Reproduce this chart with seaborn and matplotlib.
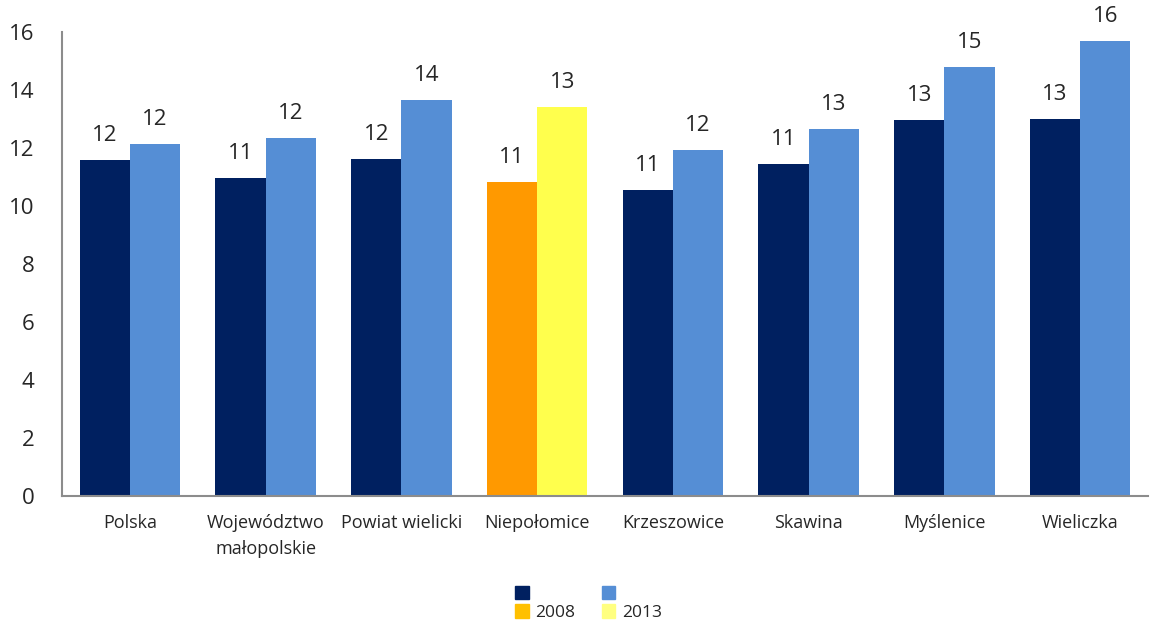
import matplotlib.pyplot as plt
import seaborn as sns
import pandas as pd
from matplotlib.patches import Patch

regions = ["Polska", "Województwo\nmałopolskie", "Powiat wielicki", "Niepołomice",
           "Krzeszowice", "Skawina", "Myślenice", "Wieliczka"]
values_2008 = [11.59, 10.97, 11.62, 10.83, 10.55, 11.45, 12.97, 13.0]
values_2013 = [12.14, 12.35, 13.66, 13.42, 11.93, 12.66, 14.8, 15.7]
years = ["2008", "2013"]

df = pd.DataFrame({
    "region": regions * 2,
    "year": [years[0]] * len(regions) + [years[1]] * len(regions),
    "value": values_2008 + values_2013,
})

sns.set_style("white")
plt.rcParams["font.family"] = ["Open Sans", "DejaVu Sans"]

fig = plt.figure(figsize=(11.54, 6.21), dpi=100)
ax = fig.add_axes([0.0537, 0.2013, 0.9411, 0.7472])

sns.barplot(data=df, x="region", y="value", hue="year", hue_order=years,
            palette=["#002060", "#558ED5"], width=0.74, gap=0,
            saturation=1, linewidth=0, legend=False, ax=ax)

# highlight Niepołomice
ax.containers[0][3].set_facecolor("#FF9900")
ax.containers[1][3].set_facecolor("#FFFF4D")

for c in ax.containers:
    ax.bar_label(c, fmt="%.0f", padding=10, fontsize=16)

ax.set_ylim(0, 16)
ax.set_yticks(range(0, 17, 2))
ax.set_xlim(-0.5, len(regions) - 0.5)
ax.set_xlabel("")
ax.set_ylabel("")
ax.tick_params(axis="y", length=0, labelsize=16, pad=20)
ax.tick_params(axis="x", length=0, labelsize=13, pad=13)
for lbl in ax.get_xticklabels():
    lbl.set_linespacing(1.6)
for s in ["top", "right"]:
    ax.spines[s].set_visible(False)
for s in ["left", "bottom"]:
    ax.spines[s].set_color("#8C8C8C")
    ax.spines[s].set_linewidth(1.5)

handles = [Patch(color="#002060"), Patch(color="#FFC000"),
           Patch(color="#558ED5"), Patch(color="#FFFF80")]
fig.legend(handles, ["", "2008", "", "2013"], ncol=2, loc="lower center",
           bbox_to_anchor=(0.51, -0.025), frameon=False, fontsize=12.5,
           handlelength=0.8, handleheight=0.8, handletextpad=0.4,
           labelspacing=0.1, columnspacing=1.5)

fig.savefig("out.png", dpi=100)
